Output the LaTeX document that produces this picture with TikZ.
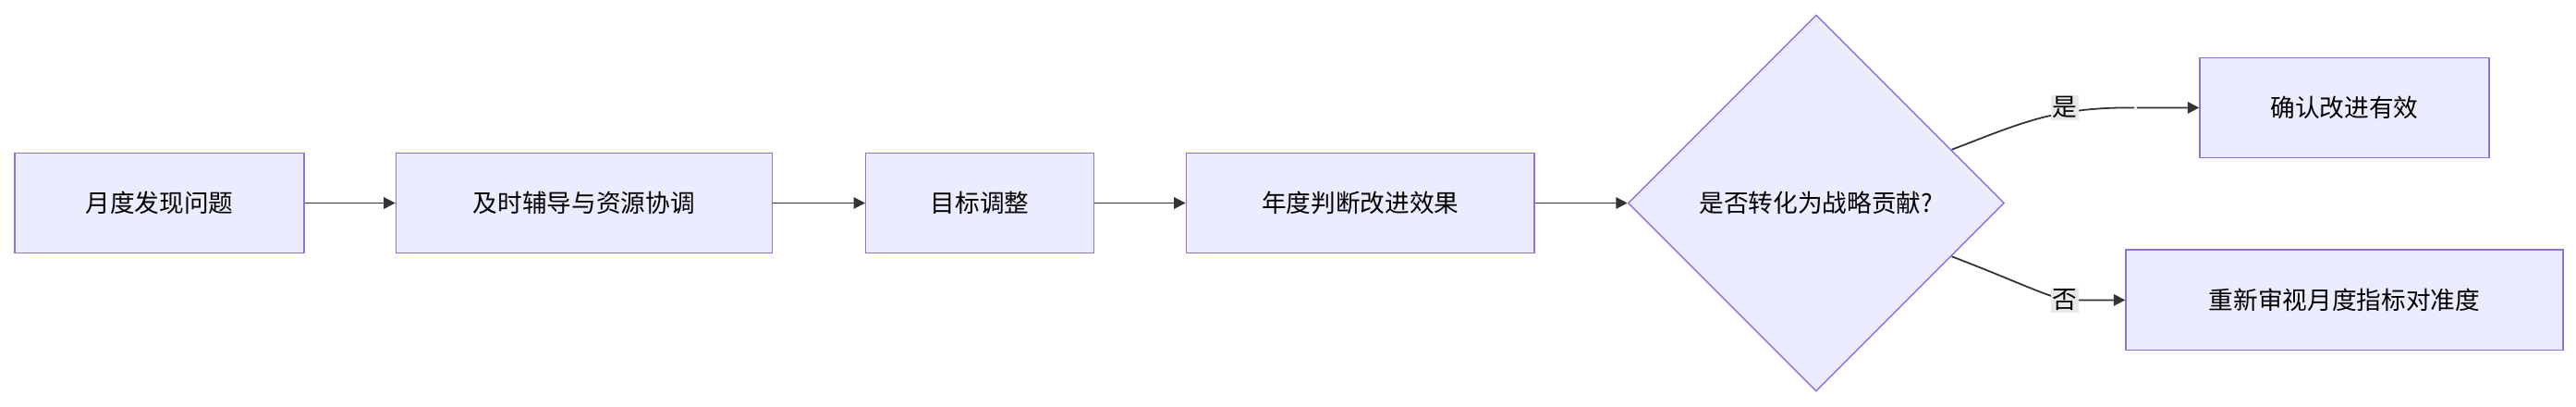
\documentclass[tikz,border=0pt]{standalone}
\usepackage{fontspec}
\setmainfont{Noto Sans CJK SC}
\usetikzlibrary{shapes.geometric,arrows.meta}
\begin{document}
\begin{tikzpicture}[x=1pt,y=-1pt,
 box/.style={draw=violet!60!blue!70,draw={rgb,255:red,147;green,112;blue,219},fill={rgb,255:red,236;green,236;blue,255},line width=0.8pt,minimum height=61pt,font=\fontsize{15}{18}\selectfont,inner sep=0},
 arr/.style={draw={rgb,255:red,51;green,51;blue,51},line width=1pt,-{Triangle[length=7pt,width=7pt]}},
 lab/.style={fill={rgb,255:red,232;green,232;blue,232},font=\fontsize{15}{18}\selectfont,inner sep=1pt}]
\useasboundingbox (0,0) rectangle (1568,247);
\node[box,minimum width=176pt] (n1) at (97,123.5) {月度发现问题};
\node[box,minimum width=229pt] (n2) at (355.5,123.5) {及时辅导与资源协调};
\node[box,minimum width=139pt] (n3) at (596.5,123.5) {目标调整};
\node[box,minimum width=212pt] (n4) at (828,123.5) {年度判断改进效果};
\node[box,diamond,minimum width=229pt,minimum height=229pt] (d) at (1105.5,123.5) {是否转化为战略贡献?};
\node[box,minimum width=176pt] (n6) at (1427,65.5) {确认改进有效};
\node[box,minimum width=266pt] (n7) at (1427,182.5) {重新审视月度指标对准度};
\draw[arr] (n1) -- (n2);
\draw[arr] (n2) -- (n3);
\draw[arr] (n3) -- (n4);
\draw[arr] (n4) -- (d);
\draw[arr] (1188,91) .. controls (1230,75) and (1250,65) .. (1300,65.5) -- (n6.west) node[pos=0,lab,pos=0] {};
\node[lab] (l1) at (1257,65.5) {是};
\draw[arr] (1188,156) .. controls (1230,172) and (1250,182.5) .. (1260,182.5) -- (n7.west);
\node[lab] (l2) at (1257,182.5) {否};
\end{tikzpicture}
\end{document}
